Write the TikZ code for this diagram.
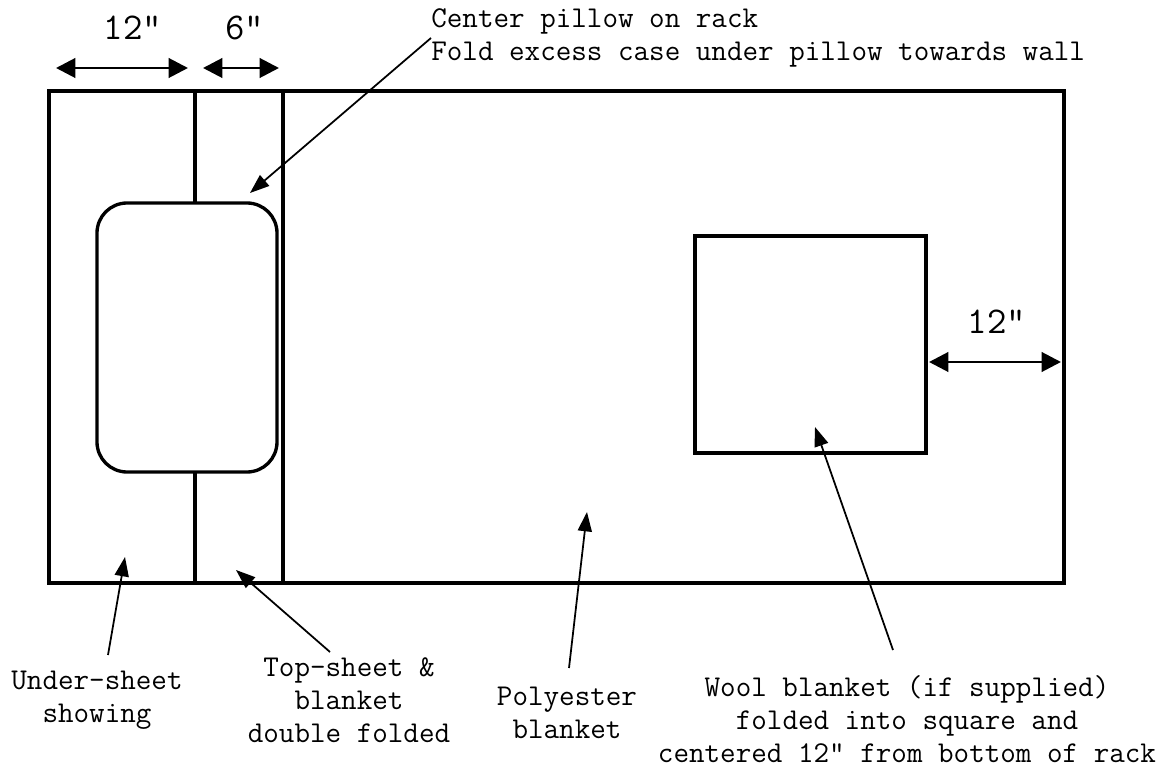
\documentclass[tikz,border=0pt]{standalone}
\usepackage{fontspec}
\usetikzlibrary{arrows.meta}
\tikzset{
  wall/.style={line width=1.9pt},
  dimarrow/.style={line width=1.7pt,{Triangle[length=11pt,width=11pt]}-{Triangle[length=11pt,width=11pt]}},
  pointer/.style={line width=1pt,-{Triangle[length=11pt,width=8pt]}},
  lbl/.style={font=\ttfamily\fontsize{17.2}{18.8}\selectfont,align=center,inner sep=0pt},
  dimlbl/.style={font=\ttfamily\fontsize{21.5}{23}\selectfont,inner sep=0pt}
}
\begin{document}
\begin{tikzpicture}[x=0.02cm,y=-0.02cm]
    \useasboundingbox (0,0) rectangle (1174,766);
    \coordinate (TL) at (49,91); \coordinate (BR) at (1064,583);
    \draw[wall] (TL) rectangle (BR);
    \draw[wall] (195,91)--(195,203); \draw[wall] (195,472)--(195,583);
    \draw[wall] (283,91)--(283,583);
    \draw[wall,rounded corners=0.6cm] (97,203) rectangle (277,472);
    \draw[wall] (695,236) rectangle (926,453);
    % dimensions
    \coordinate (d1a) at (56,68); \coordinate (d1b) at (188,68);
    \coordinate (d2a) at (203,68); \coordinate (d2b) at (279,68);
    \coordinate (d3a) at (929,362); \coordinate (d3b) at (1061,362);
    \draw[dimarrow] (d1a)--(d1b); \draw[dimarrow] (d2a)--(d2b); \draw[dimarrow] (d3a)--(d3b);
    \node[dimlbl] (w12) at (133,28) {12"}; \node[dimlbl] (w6) at (245,28) {6"};
    \node[dimlbl] (r12) at (997,322) {12"};
    % labels
    \node[lbl,align=left,anchor=west] (note) at (431,38) {Center pillow on rack\\Fold excess case under pillow towards wall};
    \node[lbl] (under) at (97,700) {Under-sheet\\showing};
    \node[lbl] (top) at (349,700) {Top-sheet \&\\blanket\\double folded};
    \node[lbl] (poly) at (567,713) {Polyester\\blanket};
    \node[lbl] (wool) at (907,719) {Wool blanket (if supplied)\\folded into square and\\centered 12" from bottom of rack};
    \coordinate (pillowH) at (250,193); \coordinate (underH) at (125,557);
    \coordinate (topH) at (236,570); \coordinate (polyH) at (587,512);
    \coordinate (woolH) at (815,427);
    \draw[pointer] (note.west)--(pillowH);
    \draw[pointer] ([shift={(11,-45)}]under.center)--(underH);
    \draw[pointer] ([shift={(-19,-48)}]top.center)--(topH);
    \draw[pointer] ([shift={(2,-45)}]poly.center)--(polyH);
    \draw[pointer] ([shift={(-14,-69)}]wool.center)--(woolH);
\end{tikzpicture}
\end{document}
